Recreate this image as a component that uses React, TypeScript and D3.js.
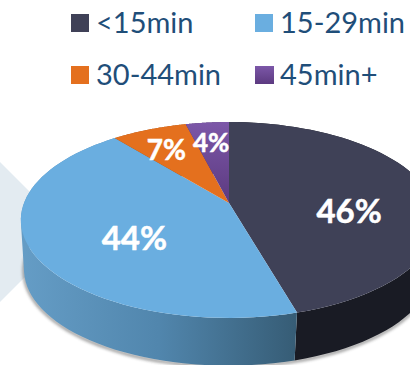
import React from "react";
import * as d3 from "d3";

// Commute-time shares shown on the pie
const categories = ["<15min", "15-29min", "30-44min", "45min+"];
const shares = [46, 44, 7, 4];
const topColors = ["#3f4157", "#6aaee0", "#e4701e", "url(#purpleTop)"];
const wallColors = ["#191b24", "url(#blueWall)", "#a04e14", "#4a2e68"];

// Tilted-disc projection: unit circle coordinates to screen, with a vanishing term
const CX = 229;
const CY = 203;
const RX = 205;
const RY = 95;
const TILT = 0.1735;

// The disc's underside sits lower, slightly smaller and a touch to the left
const BASE = { drop: 50, shrink: 0.98, shift: -1 };
const TOP = { drop: 0, shrink: 1, shift: 0 };

type Rim = typeof TOP;

const project = (angle: number, frac = 1, rim: Rim = TOP): [number, number] => {
  const u = Math.sin(angle) * frac;
  const v = Math.cos(angle) * frac;
  const w = 1 + TILT * v;
  return [CX + rim.shift + (RX * rim.shrink * u) / w, CY + rim.drop - (RY * rim.shrink * v) / w];
};

const arcPoints = (a0: number, a1: number, rim: Rim = TOP) => {
  const scale = d3.scaleLinear().domain([0, 60]).range([a0, a1]);
  return d3.range(61).map((i) => project(scale(i), 1, rim));
};

const line = d3.line<[number, number]>();

// One path of evenly wound quads, so neighbours union without seams
const wallPath = (a0: number, a1: number) => {
  const upper = arcPoints(a0, a1);
  const lower = arcPoints(a0, a1, BASE);
  return d3
    .range(60)
    .map((k) => {
      const quad: [number, number][] = [upper[k], upper[k + 1], lower[k + 1], lower[k]];
      if (d3.polygonArea(quad) < 0) quad.reverse();
      return `${line(quad)}Z`;
    })
    .join("");
};

const slices = d3
  .pie<number>()
  .sort(null)
  .value((d) => d)(shares);

// Label placement along each slice's middle radius
const labelPlacement = [
  { frac: 0.6, dy: 15, size: 33 },
  { frac: 0.5, dy: 11, size: 33 },
  { frac: 0.76, dy: 4, size: 28 },
  { frac: 0.8, dy: 5, size: 26 },
];

// Legend laid out as two columns and two rows
const legendX = d3.scaleOrdinal<number, number>().domain([0, 1]).range([71, 255]);
const legendY = d3.scaleOrdinal<number, number>().domain([0, 1]).range([14, 66]);

const FONT = "Lato, 'Open Sans', sans-serif";

export default function App() {
  const shadow = line(arcPoints(Math.PI * 0.6, Math.PI * 1.5, { ...BASE, drop: BASE.drop + 1 })) as string;
  return (
    <svg
      width={410}
      height={365}
      viewBox="0 0 410 365"
      style={{ position: "absolute", left: 0, top: 0, display: "block", background: "#fff" }}
    >
      <defs>
        <linearGradient id="blueWall" gradientUnits="userSpaceOnUse" x1={20} y1={0} x2={297} y2={0}>
          <stop offset="0" stopColor="#659dc6" />
          <stop offset="0.5" stopColor="#5186ad" />
          <stop offset="1" stopColor="#365c75" />
        </linearGradient>
        <linearGradient id="purpleTop" x1="0" y1="0" x2="0" y2="1">
          <stop offset="0" stopColor="#7c57a8" />
          <stop offset="1" stopColor="#5c3a80" />
        </linearGradient>
        <filter id="soft" x="-10%" y="-10%" width="120%" height="120%">
          <feGaussianBlur stdDeviation="1.4" />
        </filter>
      </defs>

      {/* Pale chevron behind the disc */}
      <polygon points="0,162 70,232 0,302" fill="#e3ebf1" />

      {/* Thin shadow under the disc's front edge */}
      <path d={shadow} fill="none" stroke="#666" strokeWidth={3} opacity={0.65} filter="url(#soft)" />

      {/* Side walls, covered over the far half by the top faces */}
      {slices.map((s, i) => (
        <path key={i} d={wallPath(s.startAngle, s.endAngle)} fill={wallColors[i]} fillRule="nonzero" />
      ))}

      {/* Top faces */}
      {slices.map((s, i) => (
        <path
          key={i}
          d={`${line([project(0, 0), ...arcPoints(s.startAngle, s.endAngle)])}Z`}
          fill={topColors[i]}
        />
      ))}

      {/* Percent labels */}
      {slices.map((s, i) => {
        const p = labelPlacement[i];
        const [x, y] = project((s.startAngle + s.endAngle) / 2, p.frac);
        return (
          <text
            key={i}
            x={x}
            y={y + p.dy}
            textAnchor="middle"
            dominantBaseline="central"
            fill="#fff"
            stroke="#fff"
            strokeWidth={0.5}
            fontFamily={FONT}
            fontWeight={700}
            fontSize={p.size}
          >
            {`${shares[i]}%`}
          </text>
        );
      })}

      {/* Legend */}
      {categories.map((c, i) => {
        const x = legendX(i % 2);
        const y = legendY(Math.floor(i / 2));
        return (
          <g key={c}>
            <rect x={x} y={y} width={i === 3 ? 19 : 18} height={18} fill={topColors[i]} />
            <text x={x + 25} y={y + 18.5} fill="#1f4e79" fontFamily={FONT} fontSize={29}>
              {c}
            </text>
          </g>
        );
      })}
    </svg>
  );
}
